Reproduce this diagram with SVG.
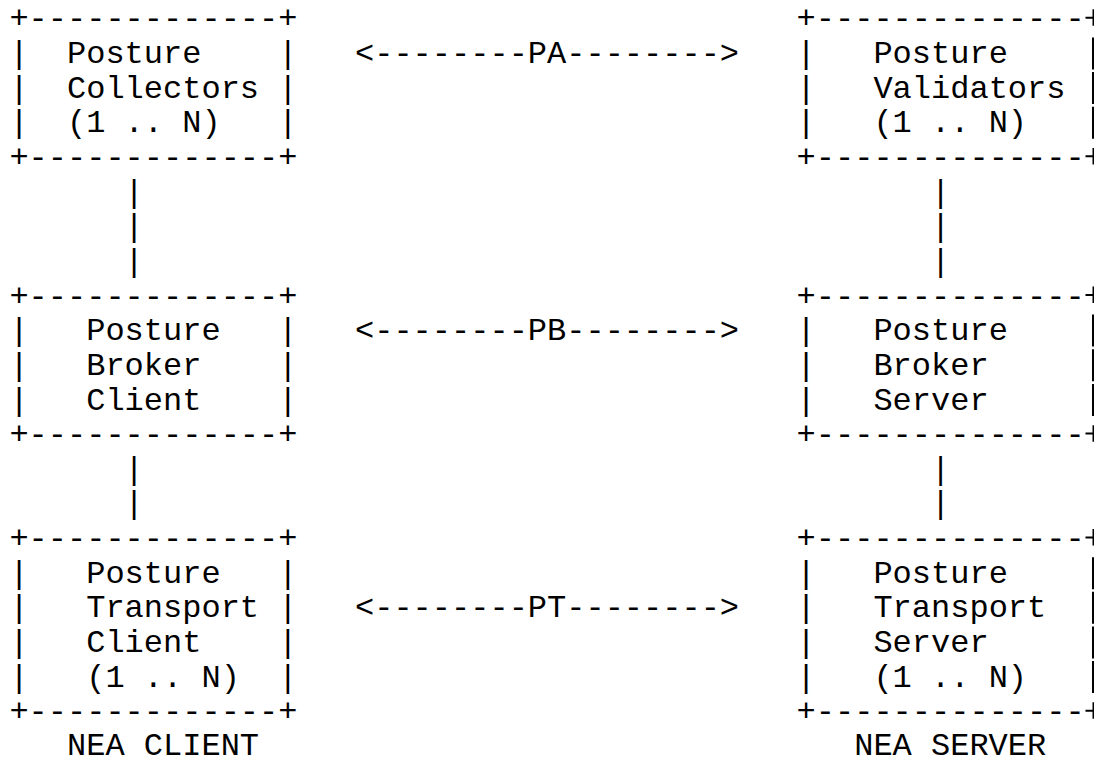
<svg xmlns="http://www.w3.org/2000/svg" width="1094" height="758" viewBox="0 0 1094 758" xml:space="preserve">
<style>
  text { font-family: "Liberation Mono", "DejaVu Sans Mono", monospace; font-size: 32px; fill: #000; white-space: pre; }
  .edge { stroke: #000; stroke-width: 2; fill: none; }
</style>
<defs>
  <path id="pipe" class="edge" d="M1093,-25.6 V6.4"/>
  <path id="plus" class="edge" d="M1085.5,-10.6 H1094 M1093.5,-19 V-2.5"/>
</defs>
<rect width="1094" height="758" fill="#fff"/>
<g id="posture-collectors">
  <text x="9.4" y="28.35">+-------------+</text>
  <text x="9.4" y="63">|  Posture    |</text>
  <text x="9.4" y="97.65">|  Collectors |</text>
  <text x="9.4" y="132.3">|  (1 .. N)   |</text>
  <text x="9.4" y="166.95">+-------------+</text>
</g>
<g id="posture-validators">
  <text x="796.6" y="28.35">+--------------</text>
  <text x="796.6" y="63">|   Posture</text>
  <text x="796.6" y="97.65">|   Validators</text>
  <text x="796.6" y="132.3">|   (1 .. N)</text>
  <text x="796.6" y="166.95">+--------------</text>
  <use href="#plus" y="28.35"/>
  <use href="#pipe" y="63"/>
  <use href="#pipe" y="97.65"/>
  <use href="#pipe" y="132.3"/>
  <use href="#plus" y="166.95"/>
</g>
<g id="posture-broker-client">
  <text x="9.4" y="305.55">+-------------+</text>
  <text x="9.4" y="340.2">|   Posture   |</text>
  <text x="9.4" y="374.85">|   Broker    |</text>
  <text x="9.4" y="409.5">|   Client    |</text>
  <text x="9.4" y="444.15">+-------------+</text>
</g>
<g id="posture-broker-server">
  <text x="796.6" y="305.55">+--------------</text>
  <text x="796.6" y="340.2">|   Posture</text>
  <text x="796.6" y="374.85">|   Broker</text>
  <text x="796.6" y="409.5">|   Server</text>
  <text x="796.6" y="444.15">+--------------</text>
  <use href="#plus" y="305.55"/>
  <use href="#pipe" y="340.2"/>
  <use href="#pipe" y="374.85"/>
  <use href="#pipe" y="409.5"/>
  <use href="#plus" y="444.15"/>
</g>
<g id="posture-transport-client">
  <text x="9.4" y="548.1">+-------------+</text>
  <text x="9.4" y="582.75">|   Posture   |</text>
  <text x="9.4" y="617.4">|   Transport |</text>
  <text x="9.4" y="652.05">|   Client    |</text>
  <text x="9.4" y="686.7">|   (1 .. N)  |</text>
  <text x="9.4" y="721.35">+-------------+</text>
</g>
<g id="posture-transport-server">
  <text x="796.6" y="548.1">+--------------</text>
  <text x="796.6" y="582.75">|   Posture</text>
  <text x="796.6" y="617.4">|   Transport</text>
  <text x="796.6" y="652.05">|   Server</text>
  <text x="796.6" y="686.7">|   (1 .. N)</text>
  <text x="796.6" y="721.35">+--------------</text>
  <use href="#plus" y="548.1"/>
  <use href="#pipe" y="582.75"/>
  <use href="#pipe" y="617.4"/>
  <use href="#pipe" y="652.05"/>
  <use href="#pipe" y="686.7"/>
  <use href="#plus" y="721.35"/>
</g>
<g id="connectors">
  <text x="124.6" y="201.6">|</text>
  <text x="124.6" y="236.25">|</text>
  <text x="124.6" y="270.9">|</text>
  <text x="931" y="201.6">|</text>
  <text x="931" y="236.25">|</text>
  <text x="931" y="270.9">|</text>
  <text x="124.6" y="478.8">|</text>
  <text x="124.6" y="513.45">|</text>
  <text x="931" y="478.8">|</text>
  <text x="931" y="513.45">|</text>
  <text x="355" y="63">&lt;--------PA--------&gt;</text>
  <text x="355" y="340.2">&lt;--------PB--------&gt;</text>
  <text x="355" y="617.4">&lt;--------PT--------&gt;</text>
</g>
<g id="labels">
  <text x="67" y="755">NEA CLIENT</text>
  <text x="854.2" y="755">NEA SERVER</text>
</g>
</svg>
